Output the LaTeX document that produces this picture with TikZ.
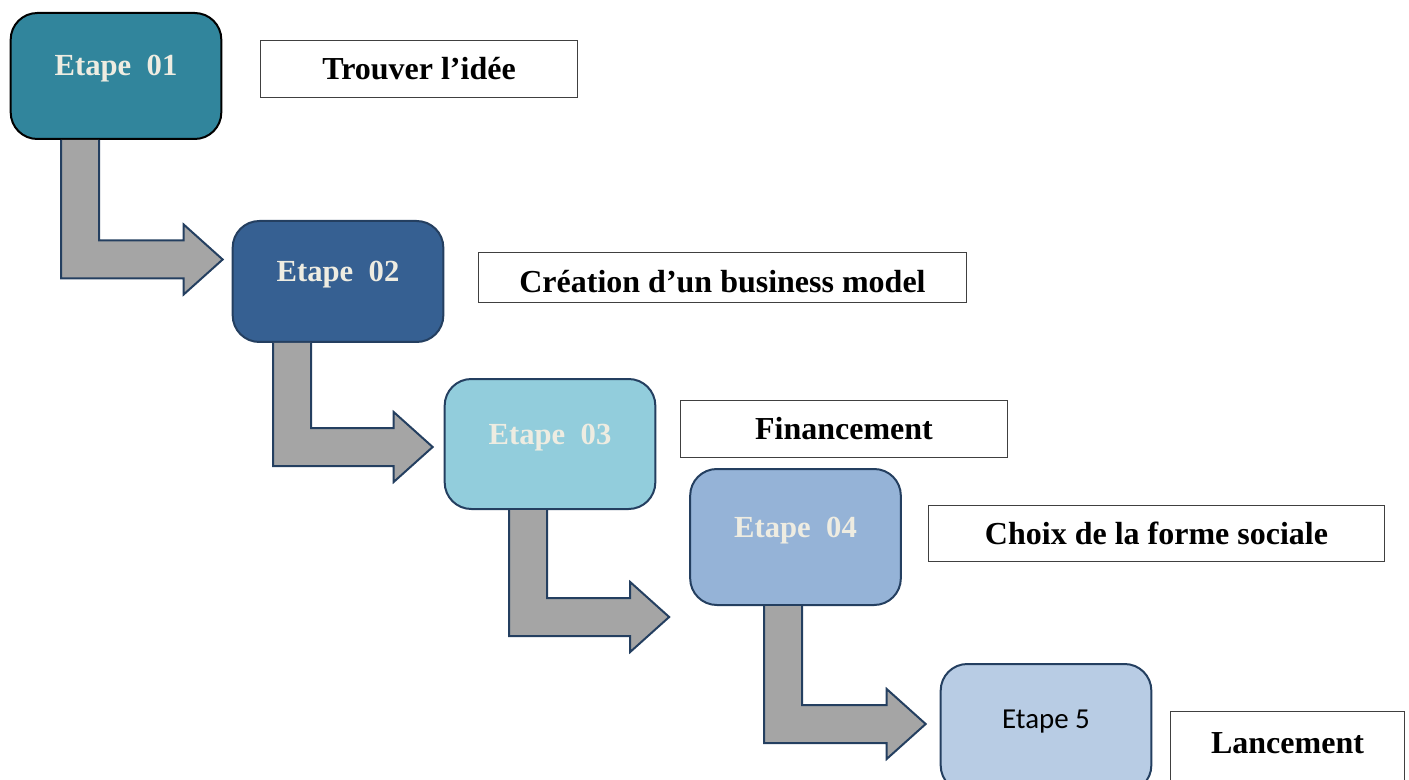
\documentclass[tikz,border=0pt]{standalone}
\usepackage{fontspec}
\setmainfont{Liberation Serif}
\newfontfamily\calibri{Carlito}
\usetikzlibrary{calc}
\definecolor{etapeA}{HTML}{31859C}
\definecolor{etapeB}{HTML}{366092}
\definecolor{etapeC}{HTML}{92CDDC}
\definecolor{etapeD}{HTML}{95B3D7}
\definecolor{etapeE}{HTML}{B8CCE4}
\definecolor{cream}{HTML}{EEECE1}
\definecolor{navy}{HTML}{243F60}
\definecolor{pipegray}{HTML}{A5A5A5}
\tikzstyle{etape} = [rectangle, rounded corners=20pt, draw=navy, line width=1.5pt, minimum width=158pt, text=cream, font=\fontsize{23}{27}\selectfont\bfseries, text height=8pt, text depth=8pt]
\tikzstyle{caption} = [rectangle, draw=black!75, line width=0.8pt, inner sep=0pt, font=\fontsize{24}{28}\selectfont\bfseries]
\tikzstyle{elbow} = [draw=navy, line width=1.5pt, fill=pipegray, line join=miter]

% bent arrow: from, to, shaft x, tip y, gap before the box
\newcommand{\elbowarrow}[5]{%
  \coordinate (tip) at ($(#2.west |- 0,#4)+(-#5,0)$);
  \draw[elbow] (#3+38,0 |- #1.south) -- (#3+38,#4-19) -- ($(tip)+(-39,-19)$) -- ($(tip)+(-39,-35)$) -- (tip) -- ($(tip)+(-39,35)$) -- ($(tip)+(-39,19)$) -- (#3,#4+19) -- (#3,0 |- #1.south);
}

\begin{document}
\begin{tikzpicture}[x=0.75pt, y=-0.75pt]
\useasboundingbox (0,0) rectangle (1409,780);

% Steps
\node (e1) [etape, fill=etapeA, draw=black, minimum height=94.5pt] at (116,76) {Etape~~01};
\node (e2) [etape, fill=etapeB, minimum height=90.75pt] at (338,281.5) {Etape~~02};
\node (e3) [etape, fill=etapeC, minimum height=97.5pt] at (550,444) {Etape~~03};
\node (e4) [etape, fill=etapeD, minimum height=102pt] at (795.5,537) {Etape~~04};
\node (e5) [etape, fill=etapeE, minimum height=96pt, text=black, font=\fontsize{21.7}{25}\selectfont\calibri] at (1046,728) {Etape 5};

% Captions
\node (c1) [caption, minimum width=237.75pt, minimum height=42.75pt] at (419,69) {Trouver l’idée};
\node (c2) [caption, minimum width=366pt, minimum height=37.5pt, text height=22pt, text depth=0pt] at (722.5,277.5) {Création d’un business model};
\node (c3) [caption, minimum width=245.25pt, minimum height=42.75pt] at (844,429) {Financement};
\node (c4) [caption, minimum width=342pt, minimum height=42pt] at (1156.5,533.5) {Choix de la forme sociale};
\node (c5) [caption, minimum width=175.5pt, minimum height=62.25pt, text height=7pt, text depth=7pt] at (1287.5,753) {Lancement};

% Arrows
\elbowarrow{e1}{e2}{61}{259.5}{9}
\elbowarrow{e2}{e3}{273}{447}{11}
\elbowarrow{e3}{e4}{509}{617}{20}
\elbowarrow{e4}{e5}{764}{724}{14}

\end{tikzpicture}
\end{document}
